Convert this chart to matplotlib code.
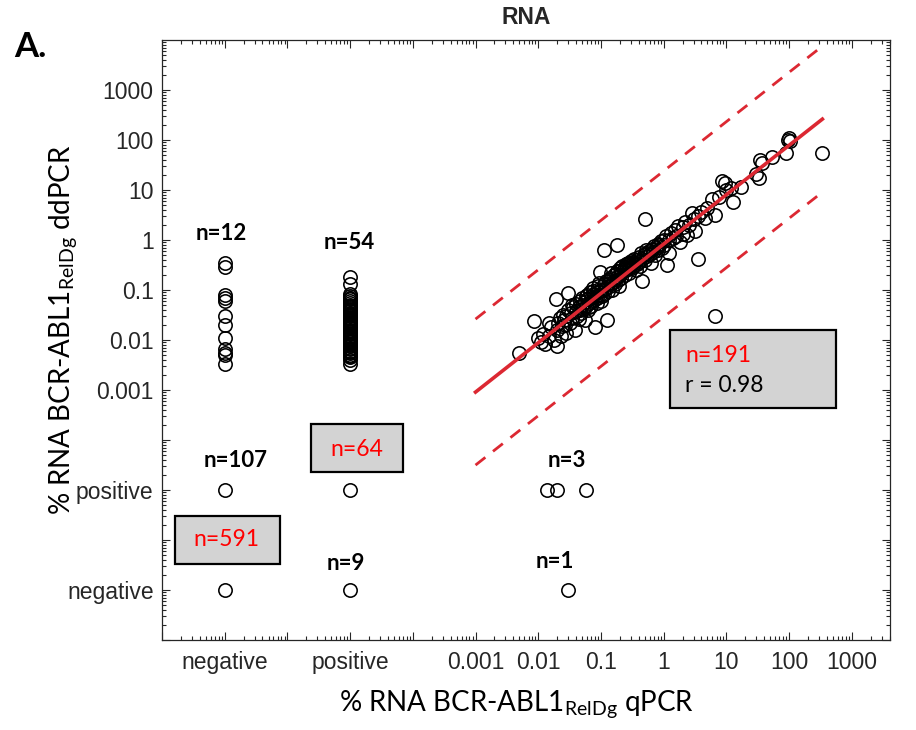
import numpy as np
import matplotlib
matplotlib.use("Agg")
import matplotlib.pyplot as plt
from matplotlib.patches import Rectangle
from matplotlib.ticker import FixedLocator, FixedFormatter, NullFormatter

plt.rcParams["font.family"] = ["Liberation Sans", "DejaVu Sans"]

# ---------------- data ----------------
NEG = 1e-7   # axis position used for "negative"
POS = 1e-5   # axis position used for "positive"

tick_vals = [1e-7, 1e-5, 1e-3, 1e-2, 1e-1, 1, 10, 100, 1000]
tick_labels = ["negative", "positive", "0.001", "0.01", "0.1", "1", "10", "100", "1000"]

# qPCR negative, ddPCR quantified (n=12)
neg_q_ddpcr = [0.35, 0.29, 0.08, 0.07, 0.06, 0.03, 0.02, 0.011, 0.0065, 0.0055, 0.005, 0.0033]
# qPCR positive (unquantified), ddPCR quantified (n=54)
pos_q_ddpcr = [0.18, 0.13, 0.085, 0.075, 0.07, 0.065, 0.06, 0.055, 0.05, 0.048,
               0.045, 0.042, 0.04, 0.038, 0.035, 0.033, 0.031, 0.03, 0.028, 0.027,
               0.025, 0.024, 0.023, 0.022, 0.021, 0.02, 0.019, 0.018, 0.017, 0.016,
               0.015, 0.015, 0.014, 0.013, 0.012, 0.012, 0.011, 0.011, 0.010, 0.0095,
               0.009, 0.0085, 0.008, 0.0075, 0.007, 0.0065, 0.006, 0.0058, 0.0055, 0.005,
               0.0048, 0.0045, 0.004, 0.0033]
# qPCR quantified, ddPCR positive (n=3) / negative (n=1)
q_ddpcr_pos = [0.014, 0.020, 0.058]
q_ddpcr_neg = [0.030]

# both quantified (n=191)
main_x = [0.005, 0.0085, 0.010, 0.011, 0.012, 0.013, 0.015, 0.016, 0.018, 0.019,
          0.020, 0.020, 0.021, 0.022, 0.024, 0.025, 0.026, 0.028, 0.028, 0.030,
          0.030, 0.032, 0.033, 0.035, 0.036, 0.038, 0.040, 0.040, 0.042, 0.045,
          0.046, 0.048, 0.050, 0.050, 0.052, 0.055, 0.055, 0.058, 0.060, 0.060,
          0.062, 0.065, 0.068, 0.070, 0.070, 0.072, 0.075, 0.078, 0.080, 0.080,
          0.082, 0.085, 0.088, 0.090, 0.090, 0.095, 0.098, 0.10, 0.10, 0.11,
          0.11, 0.11, 0.12, 0.12, 0.125, 0.13, 0.13, 0.14, 0.14, 0.15,
          0.15, 0.16, 0.16, 0.17, 0.18, 0.18, 0.18, 0.19, 0.20, 0.20,
          0.21, 0.22, 0.22, 0.23, 0.24, 0.25, 0.25, 0.26, 0.27, 0.28,
          0.28, 0.30, 0.30, 0.31, 0.32, 0.33, 0.34, 0.35, 0.36, 0.38,
          0.40, 0.40, 0.42, 0.45, 0.45, 0.48, 0.50, 0.50, 0.52, 0.55,
          0.58, 0.60, 0.62, 0.65, 0.68, 0.70, 0.72, 0.75, 0.80, 0.80,
          0.85, 0.90, 0.95, 1.0, 1.0, 1.1, 1.15, 1.2, 1.2, 1.3,
          1.4, 1.5, 1.6, 1.7, 1.8, 2.0, 2.0, 2.2, 2.4, 2.5,
          2.8, 3.0, 3.2, 3.5, 3.5, 4.0, 4.5, 5.0, 6.0, 6.5,
          6.7, 7.5, 8.5, 9.5, 10, 12, 13, 17, 30, 33,
          35, 37, 53, 90, 95, 100, 105, 340,
          0.023, 0.027, 0.034, 0.044, 0.047, 0.057, 0.064, 0.074, 0.086, 0.093,
          0.105, 0.115, 0.135, 0.145, 0.175, 0.195, 0.21, 0.24, 0.29, 0.37,
          0.44, 0.53, 0.015]
main_y = [0.0055, 0.024, 0.011, 0.009, 0.013, 0.0085, 0.012, 0.018, 0.010, 0.065,
          0.0075, 0.016, 0.022, 0.027, 0.019, 0.032, 0.025, 0.014, 0.030, 0.088,
          0.040, 0.022, 0.035, 0.028, 0.045, 0.016, 0.038, 0.052, 0.030, 0.045,
          0.060, 0.035, 0.050, 0.070, 0.042, 0.025, 0.058, 0.048, 0.080, 0.065,
          0.040, 0.055, 0.090, 0.070, 0.048, 0.060, 0.110, 0.085, 0.018, 0.065,
          0.075, 0.100, 0.055, 0.090, 0.120, 0.080, 0.230, 0.10, 0.060, 0.62,
          0.13, 0.085, 0.11, 0.15, 0.025, 0.095, 0.13, 0.17, 0.12, 0.14,
          0.10, 0.20, 0.15, 0.13, 0.80, 0.18, 0.24, 0.16, 0.20, 0.28,
          0.17, 0.23, 0.30, 0.26, 0.20, 0.33, 0.25, 0.30, 0.35, 0.28,
          0.22, 0.32, 0.38, 0.27, 0.36, 0.30, 0.42, 0.34, 0.25, 0.40,
          0.36, 0.46, 0.30, 0.42, 0.15, 0.50, 2.6, 0.40, 0.55, 0.47,
          0.60, 0.52, 0.35, 0.65, 0.58, 0.75, 0.50, 0.70, 0.85, 0.62,
          0.78, 0.95, 0.70, 1.0, 0.80, 1.2, 0.32, 1.0, 0.55, 1.4,
          1.1, 1.6, 1.2, 1.9, 0.9, 1.8, 1.3, 2.3, 1.25, 2.0,
          3.4, 2.6, 1.5, 0.42, 3.0, 3.6, 2.8, 4.3, 6.5, 0.030,
          3.1, 7.2, 15.0, 13.5, 9.9, 11, 5.7, 11.5, 21, 17,
          39, 34, 45, 56, 100, 110, 95, 55,
          0.012, 0.020, 0.050, 0.026, 0.040, 0.075, 0.045, 0.095, 0.070, 0.140,
          0.075, 0.105, 0.16, 0.22, 0.21, 0.12, 0.25, 0.29, 0.34, 0.33,
          0.55, 0.62, 0.022]

# regression (log-log) and band
fit_x_range = [0.001, 340]
fit_slope = 0.987
fit_intercept = 0.83     # y = intercept * x**slope
band_factor = 10 ** 1.46

# ---------------- figure ----------------
W, H = 916, 730
fig = plt.figure(figsize=(W / 100, H / 100), dpi=100)
L, R, T, B = 162, 890, 40, 640
ax = fig.add_axes([L / W, 1 - B / H, (R - L) / W, (B - T) / H])

ax.set_xscale("log")
ax.set_yscale("log")
ax.set_xlim(1e-8, 10 ** 3.61)
ax.set_ylim(1e-8, 1e4)

mk = dict(marker="o", linestyle="none", markersize=9.6, markerfacecolor="none",
          markeredgecolor="black", markeredgewidth=1.15, zorder=3)

ax.plot([NEG] * len(neg_q_ddpcr), neg_q_ddpcr, **mk)
ax.plot([POS] * len(pos_q_ddpcr), pos_q_ddpcr, **mk)
ax.plot([NEG, POS], [POS, POS], **mk)
ax.plot([NEG, POS], [NEG, NEG], **mk)
ax.plot(q_ddpcr_pos, [POS] * len(q_ddpcr_pos), **mk)
ax.plot(q_ddpcr_neg, [NEG] * len(q_ddpcr_neg), **mk)
ax.plot(main_x, main_y, **mk)

fx = np.array(fit_x_range)
fy = fit_intercept * fx ** fit_slope
red = "#dc2832"
ax.plot(fx, fy, color=red, lw=2.6, zorder=4)
ax.plot(fx, fy * band_factor, color=red, lw=2.0, ls=(0, (4.5, 3.5)), zorder=4)
ax.plot(fx, fy / band_factor, color=red, lw=2.0, ls=(0, (4.5, 3.5)), zorder=4)

# ticks
dec = [10.0 ** k for k in range(-8, 4)]
major_labels = []
for d in dec:
    lab = ""
    for v, s in zip(tick_vals, tick_labels):
        if np.isclose(v, d):
            lab = s
    major_labels.append(lab)
minor = [m * d for d in dec for m in range(2, 10)]

for axis in (ax.xaxis, ax.yaxis):
    axis.set_major_locator(FixedLocator(dec))
    axis.set_major_formatter(FixedFormatter(major_labels))
    axis.set_minor_locator(FixedLocator(minor))
    axis.set_minor_formatter(NullFormatter())

tc = "#262626"
ax.tick_params(which="both", direction="in", top=True, right=True, colors=tc,
               width=0.8, labelsize=16.5)
ax.tick_params(which="major", length=6)
ax.tick_params(which="minor", length=3)
ax.tick_params(axis="x", which="major", pad=8)
ax.tick_params(axis="y", which="major", pad=6)
for s in ax.spines.values():
    s.set_color(tc)
    s.set_linewidth(0.9)

# counts
cf = dict(fontfamily="Lato", fontweight="bold", fontsize=16, ha="center", va="center",
          color="black", zorder=6)
ax.text(10 ** -7.06, 10 ** 0.13, "n=12", **cf)
ax.text(10 ** -5.02, 10 ** -0.05, "n=54", **cf)
ax.text(10 ** -6.82, 10 ** -4.41, "n=107", **cf)
ax.text(10 ** -5.07, 10 ** -6.48, "n=9", **cf)
ax.text(10 ** -1.54, 10 ** -4.41, "n=3", **cf)
ax.text(10 ** -1.73, 10 ** -6.44, "n=1", **cf)

# boxes (axes fraction)
def box(x0, y0, x1, y1):
    ax.add_patch(Rectangle((x0, y0), x1 - x0, y1 - y0, transform=ax.transAxes,
                           facecolor="#d3d3d3", edgecolor="black", lw=1.6, zorder=5,
                           clip_on=False))

bf = dict(fontfamily="Lato", fontsize=16.5, transform=ax.transAxes, zorder=6)
box(0.0179, 0.1267, 0.1621, 0.2067)
ax.text(0.0879, 0.1667, "n=591", color="red", ha="center", va="center", **bf)
box(0.2047, 0.28, 0.331, 0.36)
ax.text(0.2679, 0.3183, "n=64", color="red", ha="center", va="center", **bf)
box(0.6978, 0.3867, 0.9258, 0.5167)
ax.text(0.7184, 0.475, "n=191", color="red", ha="left", va="center", **bf)
ax.text(0.7184, 0.425, "r = 0.98", color="black", ha="left", va="center", **bf)

# titles and labels
fig.text(526 / W, 1 - 18 / H, "RNA", fontfamily="Liberation Sans", fontweight="bold",
         fontsize=16.5, ha="center", va="center", color=tc)
fig.text(30 / W, 1 - 47 / H, "A.", fontfamily="Lato", fontweight="bold",
         fontsize=25, ha="center", va="center")
fig.text(517 / W, 1 - 705 / H, r"% RNA BCR-ABL1$_{\mathregular{RelDg}}$ qPCR",
         fontfamily="Lato", fontsize=20, ha="center", va="center")
fig.text(64 / W, 1 - 330 / H, r"% RNA BCR-ABL1$_{\mathregular{RelDg}}$ ddPCR",
         fontfamily="Lato", fontsize=20, ha="center", va="center", rotation=90)

fig.savefig("out.png", dpi=100)
